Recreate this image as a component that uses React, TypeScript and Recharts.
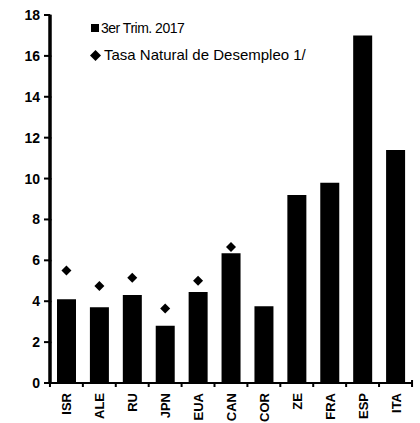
import React from "react";
import { ComposedChart, Bar, Line, XAxis, YAxis } from "recharts";

const categories = ["ISR", "ALE", "RU", "JPN", "EUA", "CAN", "COR", "ZE", "FRA", "ESP", "ITA"];
const trim2017 = [4.1, 3.7, 4.3, 2.8, 4.45, 6.35, 3.75, 9.2, 9.8, 17.0, 11.4];
const natural: (number | null)[] = [5.5, 4.75, 5.15, 3.65, 5.0, 6.65, null, null, null, null, null];
const yTicks = [0, 2, 4, 6, 8, 10, 12, 14, 16, 18];

const data = categories.map((c, i) => ({ name: c, trim: trim2017[i], nat: natural[i] }));

const FONT = "'Liberation Sans', Arial, sans-serif";
const HALF_BAND = 16.5;
const Y_STEP = 368 / 9;

const Diamond = (props: any) => {
  const { cx, cy, payload } = props;
  if (cx == null || cy == null || payload == null || payload.nat == null) return null;
  const r = 5;
  return (
    <path
      key={`d-${cx}`}
      d={`M${cx},${cy - r} L${cx + r},${cy} L${cx},${cy + r} L${cx - r},${cy} Z`}
      fill="#000"
    />
  );
};

const XTick = (props: any) => {
  const { x, y, payload, index } = props;
  const last = index === categories.length - 1;
  return (
    <g>
      <rect x={x - HALF_BAND - 0.5} y={y - 1} width={2 * HALF_BAND + 1} height={2} fill="#000" />
      <rect x={x - HALF_BAND - 1} y={y} width={2} height={4} fill="#000" />
      {last && <rect x={x + HALF_BAND - 1} y={y - 3} width={2} height={7} fill="#000" />}
      <text
        x={0}
        y={0}
        transform={`translate(${x + 5},${y + 10}) rotate(-90)`}
        textAnchor="end"
        fontFamily={FONT}
        fontWeight="bold"
        fontSize={13}
        fill="#000"
      >
        {payload.value}
      </text>
    </g>
  );
};

const YTick = (props: any) => {
  const { x, y, payload } = props;
  return (
    <g>
      <rect x={x - 6} y={y - 1} width={6} height={2} fill="#000" />
      {payload.value > 0 && <rect x={x - 1.5} y={y - 0.5} width={3} height={Y_STEP + 1.5} fill="#000" />}
      <text
        x={x - 10}
        y={y}
        dy="0.355em"
        textAnchor="end"
        fontFamily={FONT}
        fontWeight="bold"
        fontSize={14}
        fill="#000"
      >
        {payload.value}
      </text>
    </g>
  );
};

export default function App() {
  return (
    <div style={{ position: "absolute", left: 0, top: 0, width: 420, height: 423, background: "#fff" }}>
      <ComposedChart
        width={420}
        height={423}
        data={data}
        margin={{ top: 15, right: 8, bottom: 0, left: 0 }}
        barCategoryGap={7}
      >
        <XAxis
          dataKey="name"
          tick={<XTick />}
          tickLine={false}
          tickSize={0}
          tickMargin={0}
          stroke="#000"
          strokeWidth={2}
          height={40}
          interval={0}
        />
        <YAxis
          domain={[0, 18]}
          ticks={yTicks}
          width={50}
          tickSize={0}
          tickMargin={0}
          tickLine={false}
          interval={0}
          stroke="#000"
          strokeWidth={3}
          tick={<YTick />}
        />
        <Bar dataKey="trim" fill="#000" isAnimationActive={false} />
        <Line dataKey="nat" stroke="none" dot={<Diamond />} activeDot={false} isAnimationActive={false} />
      </ComposedChart>
      <div
        style={{
          position: "absolute",
          left: 90,
          top: 19,
          fontFamily: FONT,
          fontSize: 15,
          color: "#000",
          lineHeight: "18px",
        }}
      >
        <div style={{ display: "flex", alignItems: "center" }}>
          <svg width={10} height={10} style={{ marginRight: 1 }}>
            <rect x={1} y={1} width={8} height={8} fill="#000" />
          </svg>
          <span style={{ fontSize: 14, letterSpacing: -0.5 }}>3er Trim. 2017</span>
        </div>
        <div style={{ display: "flex", alignItems: "center", marginTop: 9 }}>
          <svg width={11} height={11} style={{ marginRight: 3 }}>
            <path d="M5.5,0 L11,5.5 L5.5,11 L0,5.5 Z" fill="#000" />
          </svg>
          <span>Tasa Natural de Desempleo 1/</span>
        </div>
      </div>
    </div>
  );
}
